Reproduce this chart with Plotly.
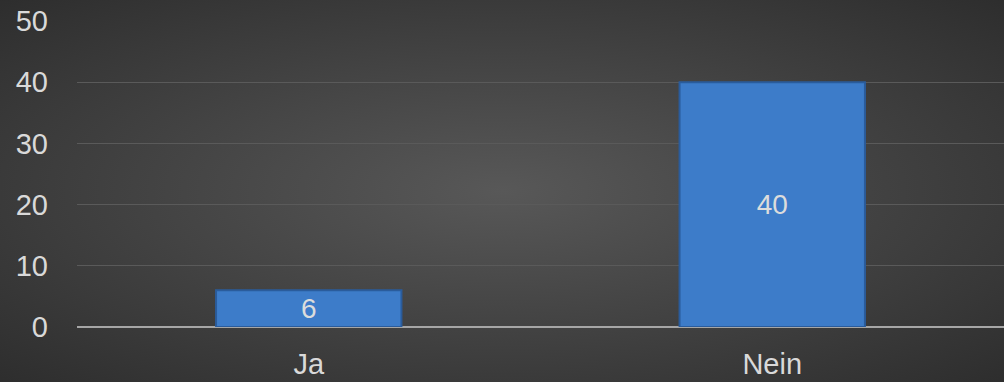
import base64
import plotly.graph_objects as go

categories = ["Ja", "Nein"]
values = [6, 40]
y_ticks = [0, 10, 20, 30, 40, 50]

svg = """<svg xmlns='http://www.w3.org/2000/svg' width='1004' height='382'>
<defs><radialGradient id='g' cx='50%' cy='50%' r='75%'>
<stop offset='0%' stop-color='#585858'/>
<stop offset='100%' stop-color='#2b2b2b'/>
</radialGradient></defs>
<rect width='1004' height='382' fill='url(#g)'/></svg>"""
bg = "data:image/svg+xml;base64," + base64.b64encode(svg.encode()).decode()

W, H = 1004, 382
L, R, T, B = 77, 0, 21, 55
pw, ph = W - L - R, H - T - B
FONT = "Liberation Sans, Arial"

fig = go.Figure()
fig.add_trace(go.Bar(
    x=categories, y=values,
    text=[str(v) for v in values],
    textposition="inside", insidetextanchor="middle",
    textangle=0, constraintext="none",
    textfont=dict(size=28, color="#dcdcdc", family=FONT),
    marker=dict(color="#3d7cc9", line=dict(color="#2a5c9c", width=2)),
    width=0.4,
))

fig.update_layout(
    width=W, height=H,
    margin=dict(l=L, r=R, t=T, b=B),
    paper_bgcolor="#333333", plot_bgcolor="rgba(0,0,0,0)",
    font=dict(family=FONT, size=29, color="#d9d9d9"),
    showlegend=False,
    images=[dict(source=bg, xref="paper", yref="paper",
                 x=-L / pw, y=1 + T / ph, sizex=W / pw, sizey=H / ph,
                 xanchor="left", yanchor="top", sizing="stretch", layer="below")],
    xaxis=dict(showgrid=False, showline=False, ticks="",
               tickfont=dict(size=29, color="#d9d9d9"), ticklabelstandoff=17),
    yaxis=dict(range=[0, 50], tickvals=y_ticks, showgrid=True,
               gridcolor="#5a5a5a", gridwidth=1,
               zeroline=True, zerolinecolor="#a6a6a6", zerolinewidth=2,
               showline=False, ticks="", ticklabelstandoff=28,
               tickfont=dict(size=29, color="#d9d9d9")),
)

fig.write_html("out.html", config={"displayModeBar": False},
               post_script="document.body.style.margin='0';document.body.style.padding='0';")
